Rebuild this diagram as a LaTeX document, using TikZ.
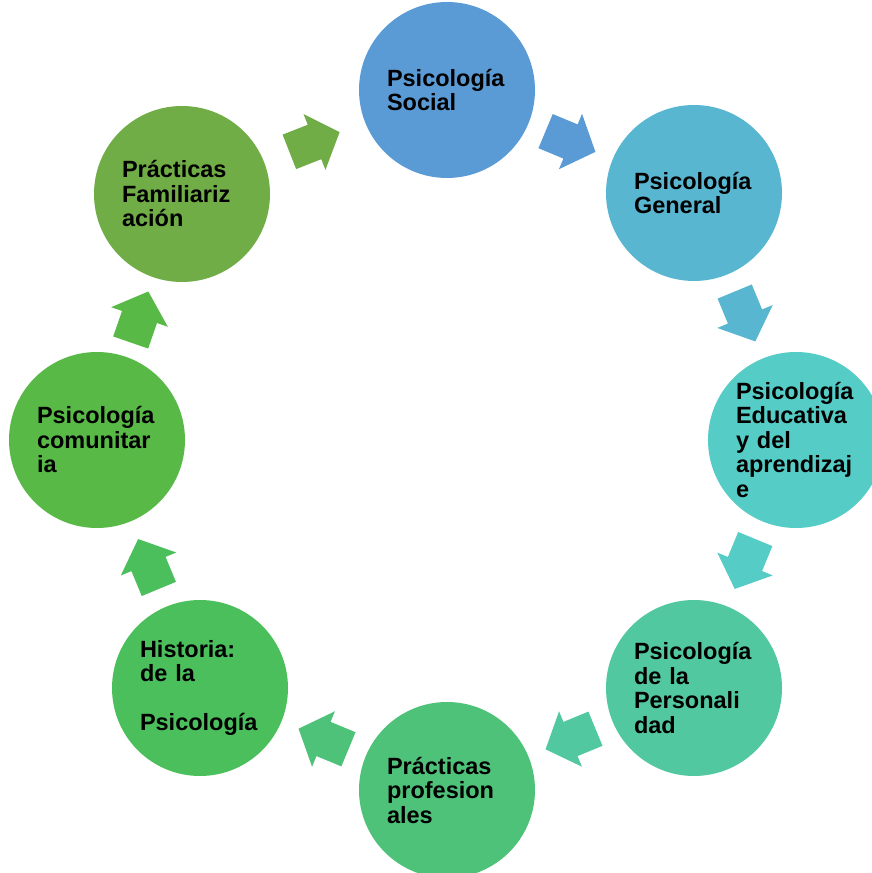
\documentclass[tikz,border=0pt]{standalone}
\usepackage{fontspec}
\setmainfont{Liberation Sans}
\usetikzlibrary{calc}

\definecolor{cSoc}{HTML}{5B9BD5}
\definecolor{cGen}{HTML}{59B6D0}
\definecolor{cEdu}{HTML}{55CCC6}
\definecolor{cPer}{HTML}{52C8A1}
\definecolor{cPro}{HTML}{4FC27A}
\definecolor{cHis}{HTML}{4ABF5B}
\definecolor{cCom}{HTML}{58B947}
\definecolor{cFam}{HTML}{70AD47}

\begin{document}
\begin{tikzpicture}[x=1pt,y=1pt]
  \tikzstyle{circulo}=[circle, minimum size=176pt, inner sep=0pt, text width=120pt,
                       align=left, font=\bfseries\fontsize{23.5}{24.5}\selectfont]
  \tikzstyle{flecha}=[draw=none, to path={
      let \p1=($(\tikztotarget)-(\tikztostart)$), \n1={atan2(\y1,\x1)},
          \p2=($(\tikztostart)!.5!(\tikztotarget)$) in
      ($(\p2)+(\n1+180:27pt)+(\n1+90:18.5pt)$) -- ($(\p2)+(\n1+90:18.5pt)$)
      -- ($(\p2)+(\n1+90:30pt)$) -- ($(\p2)+(\n1:27pt)$) -- ($(\p2)+(\n1-90:30pt)$)
      -- ($(\p2)+(\n1-90:18.5pt)$) -- ($(\p2)+(\n1+180:27pt)+(\n1-90:18.5pt)$) -- cycle}]

  \useasboundingbox (0,0) rectangle (872,873);

  \node[circulo, fill=cSoc] (soc) at (447,783) {Psicología\\Social};
  \node[circulo, fill=cGen] (gen) at (694,680) {Psicología\\General};
  \node[circulo, fill=cEdu] (edu) at (796,433) {Psicología\\Educativa\\y del\\aprendizaj\\e};
  \node[circulo, fill=cPer] (per) at (694,185) {Psicología\\de la\\Personali\\dad};
  \node[circulo, fill=cPro] (pro) at (447,83)  {Prácticas\\profesion\\ales};
  \node[circulo, fill=cHis] (his) at (200,185) {Historia:\\de la\\[24.5pt]Psicología};
  \node[circulo, fill=cCom] (com) at (97,433)  {Psicología\\comunitar\\ia};
  \node[circulo, fill=cFam] (fam) at (182,679) {Prácticas\\Familiariz\\ación};

  \path (soc) edge [flecha, fill=cSoc] (gen)
        (gen) edge [flecha, fill=cGen] (edu)
        (edu) edge [flecha, fill=cEdu] (per)
        (per) edge [flecha, fill=cPer] (pro)
        (pro) edge [flecha, fill=cPro] (his)
        (his) edge [flecha, fill=cHis] (com)
        (com) edge [flecha, fill=cCom] (fam)
        (fam) edge [flecha, fill=cFam] (soc);
\end{tikzpicture}
\end{document}
